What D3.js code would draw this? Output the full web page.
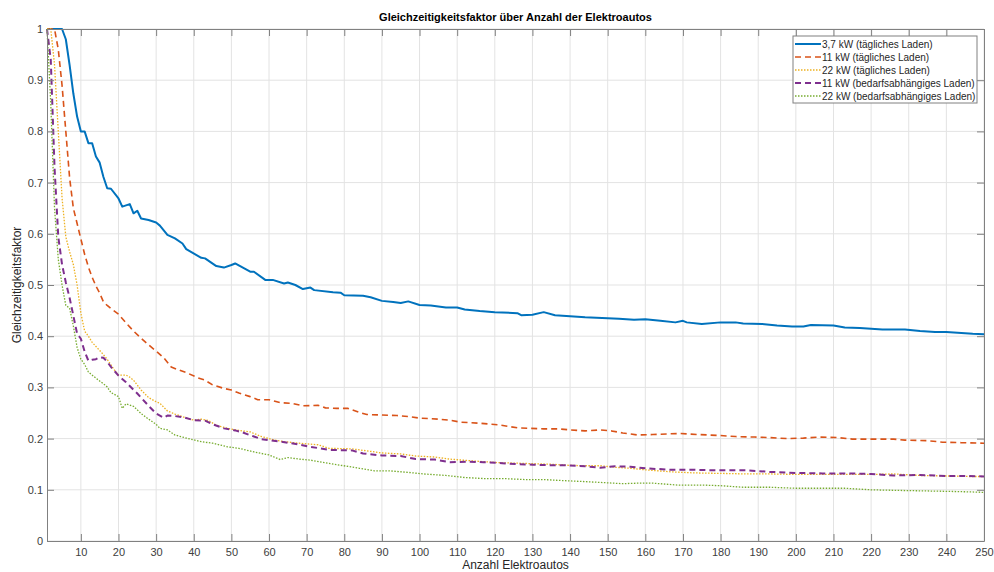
<!DOCTYPE html>
<html>
<head>
<meta charset="utf-8">
<script src="https://cdn.jsdelivr.net/npm/d3@7"></script>
<style>
  body { margin: 0; background: #fff; }
  svg { display: block; font-family: "Liberation Sans", Arial, sans-serif; }
</style>
</head>
<body>
<div id="viz"></div>
<script>
// data (N = Anzahl Elektroautos, f = Gleichzeitigkeitsfaktor)
var n37Tag = [1,2,3,4,5,6,7,8,9,10,11,12,13,14,15,16,17,18,20,21,23,24,25,26,28,30,31,33,35,37,38,42,43,46,48,50,51,55,56,59,61,64,65,67,69,71,72,77,79,80,85,87,90,93,95,97,100,103,107,110,112,116,120,126,127,130,133,136,138,144,147,153,157,160,164,168,170,171,175,180,184,186,191,195,199,202,204,210,213,217,223,229,233,237,240,245,247,250];
var f37Tag = [1,1,1,1,1,0.98,0.93,0.874,0.829,0.80,0.80,0.777,0.777,0.751,0.739,0.711,0.689,0.688,0.669,0.653,0.658,0.640,0.645,0.630,0.627,0.622,0.616,0.598,0.591,0.581,0.570,0.553,0.552,0.537,0.534,0.539,0.542,0.526,0.526,0.510,0.510,0.503,0.505,0.500,0.492,0.495,0.490,0.486,0.485,0.480,0.479,0.476,0.469,0.467,0.465,0.468,0.461,0.460,0.456,0.456,0.452,0.449,0.447,0.445,0.441,0.442,0.447,0.441,0.440,0.437,0.436,0.434,0.432,0.433,0.430,0.427,0.430,0.427,0.424,0.427,0.427,0.425,0.424,0.421,0.419,0.419,0.422,0.421,0.417,0.416,0.413,0.413,0.410,0.408,0.408,0.406,0.405,0.404];

var n11Tag = [1,2,3,4,5,6,7,8,9,10,11,12,13,14,15,16,17,18,20,22,24,26,28,30,32,34,36,38,41,43,45,48,50,52,55,57,60,63,66,69,73,75,78,81,84,86,90,94,97,100,105,108,111,116,121,126,133,137,140,144,148,151,154,158,162,169,174,180,184,189,193,198,202,206,211,215,221,226,229,235,239,244,250];
var f11Tag = [1,1,1,0.96,0.89,0.80,0.71,0.65,0.62,0.59,0.56,0.535,0.515,0.498,0.484,0.467,0.46,0.454,0.443,0.426,0.41,0.396,0.383,0.371,0.358,0.340,0.334,0.329,0.319,0.314,0.305,0.298,0.295,0.289,0.282,0.276,0.276,0.270,0.269,0.264,0.265,0.260,0.259,0.259,0.251,0.247,0.246,0.245,0.243,0.240,0.238,0.236,0.232,0.230,0.227,0.221,0.219,0.219,0.217,0.215,0.217,0.215,0.211,0.207,0.208,0.210,0.208,0.206,0.204,0.203,0.202,0.200,0.201,0.203,0.202,0.199,0.199,0.199,0.197,0.196,0.193,0.192,0.191];

var n22Tag = [1,2,3,4,5,6,7,8,9,10,11,12,13,14,15,16,17,18,19,20,22,23,24,26,28,30,31,33,35,38,40,42,44,46,49,52,55,58,61,64,68,73,76,82,86,90,95,99,104,108,113,117,121,126,130,135,139,144,148,152,156,160,167,173,180,187,193,200,206,213,220,226,233,240,246,250];
var f22Tag = [1,1,0.93,0.80,0.67,0.594,0.565,0.54,0.50,0.445,0.41,0.40,0.388,0.38,0.372,0.364,0.355,0.344,0.333,0.324,0.324,0.32,0.314,0.295,0.28,0.272,0.269,0.254,0.248,0.240,0.236,0.238,0.235,0.226,0.220,0.216,0.213,0.204,0.198,0.194,0.191,0.188,0.181,0.180,0.176,0.172,0.170,0.166,0.164,0.160,0.157,0.155,0.153,0.152,0.151,0.150,0.148,0.147,0.147,0.144,0.142,0.139,0.135,0.133,0.132,0.131,0.131,0.130,0.130,0.130,0.130,0.131,0.128,0.127,0.126,0.126];

var n11Bed = [1,2,3,4,5,6,7,8,9,10,11,12,13,14,15,16,17,18,20,22,25,28,30,32,33,35,37,40,43,45,48,51,53,56,58,60,63,66,71,76,82,85,90,95,99,104,108,113,117,122,126,130,135,139,144,148,152,156,160,167,173,180,187,193,200,207,213,220,226,233,240,246,250];
var f11Bed = [1,0.94,0.73,0.594,0.54,0.505,0.475,0.44,0.405,0.395,0.37,0.352,0.354,0.355,0.359,0.358,0.35,0.340,0.323,0.31,0.288,0.264,0.249,0.241,0.245,0.244,0.242,0.236,0.235,0.228,0.220,0.216,0.212,0.204,0.199,0.197,0.194,0.191,0.184,0.178,0.177,0.171,0.167,0.166,0.160,0.159,0.154,0.155,0.154,0.152,0.150,0.149,0.148,0.148,0.146,0.143,0.146,0.145,0.142,0.139,0.139,0.138,0.138,0.135,0.133,0.132,0.132,0.131,0.128,0.129,0.127,0.127,0.126];

var n22Bed = [1,2,3,4,5,6,7,8,9,10,11,12,14,16,17,18,20,21,22,24,26,28,30,31,33,35,38,42,45,49,52,56,60,63,65,68,71,74,79,84,88,92,97,101,107,112,117,122,128,133,138,144,149,154,158,162,169,176,180,186,193,200,207,213,220,226,233,240,246,250];
var f22Bed = [1,0.855,0.65,0.55,0.50,0.46,0.455,0.42,0.378,0.355,0.345,0.33,0.318,0.307,0.301,0.29,0.282,0.259,0.268,0.263,0.249,0.238,0.228,0.220,0.217,0.207,0.201,0.194,0.191,0.184,0.181,0.174,0.168,0.159,0.163,0.160,0.158,0.154,0.148,0.142,0.137,0.137,0.134,0.131,0.128,0.124,0.122,0.122,0.120,0.120,0.118,0.116,0.114,0.112,0.113,0.113,0.109,0.109,0.108,0.105,0.105,0.103,0.103,0.103,0.100,0.099,0.098,0.097,0.096,0.095];

var seriesNames = ['3,7 kW (tägliches Laden)', '11 kW (tägliches Laden)', '22 kW (tägliches Laden)',
    '11 kW (bedarfsabhängiges Laden)', '22 kW (bedarfsabhängiges Laden)'];
var xTicks = [10,20,30,40,50,60,70,80,90,100,110,120,130,140,150,160,170,180,190,200,210,220,230,240,250];
var yTicks = [0,0.1,0.2,0.3,0.4,0.5,0.6,0.7,0.8,0.9,1];

var W = 994, H = 572,
    pLeft = 47, pRight = 984, pTop = 29, pBottom = 541;

var styles = [
    { color: '#0072BD', w: 2,   dash: null },
    { color: '#D95319', w: 1.6, dash: '6,4' },
    { color: '#EDB120', w: 1.3, dash: '1.5,1.5' },
    { color: '#7E2F8E', w: 2,   dash: '6,4' },
    { color: '#77AC30', w: 1.3, dash: '1.5,1.5' }
];

var lines = [
    d3.zip(n37Tag, f37Tag), d3.zip(n11Tag, f11Tag), d3.zip(n22Tag, f22Tag),
    d3.zip(n11Bed, f11Bed), d3.zip(n22Bed, f22Bed)
];

var svg = d3.select('#viz').append('svg')
    .attr('width', W)
    .attr('height', H);

var x = d3.scaleLinear().domain([1, 250]).range([pLeft, pRight]);
var y = d3.scaleLinear().domain([0, 1]).range([pBottom, pTop]);

// grid
svg.append('g')
    .selectAll('line')
    .data(xTicks)
    .enter().append('line')
    .attr('x1', function (d) { return x(d); })
    .attr('x2', function (d) { return x(d); })
    .attr('y1', pTop).attr('y2', pBottom)
    .style('stroke', '#e3e3e3');
svg.append('g')
    .selectAll('line')
    .data(yTicks)
    .enter().append('line')
    .attr('x1', pLeft).attr('x2', pRight)
    .attr('y1', function (d) { return y(d); })
    .attr('y2', function (d) { return y(d); })
    .style('stroke', '#e3e3e3');

// curves
var line = d3.line()
    .x(function (d) { return x(d[0]); })
    .y(function (d) { return y(d[1]); });

svg.append('g')
    .selectAll('path')
    .data(lines)
    .enter().append('path')
    .attr('d', line)
    .style('fill', 'none')
    .style('stroke', function (d, i) { return styles[i].color; })
    .style('stroke-width', function (d, i) { return styles[i].w; })
    .style('stroke-dasharray', function (d, i) { return styles[i].dash; })
    .style('stroke-linejoin', 'round');

// axes (box with inward ticks)
var fmt = function (d) { return String(+d.toFixed(1)); };
var axes = [
    svg.append('g').attr('transform', 'translate(0,' + pBottom + ')')
        .call(d3.axisBottom(x).tickValues(xTicks).tickSizeInner(-7).tickSizeOuter(0).tickPadding(7)),
    svg.append('g').attr('transform', 'translate(0,' + pTop + ')')
        .call(d3.axisTop(x).tickValues(xTicks).tickSizeInner(-7).tickSizeOuter(0).tickFormat('')),
    svg.append('g').attr('transform', 'translate(' + pLeft + ',0)')
        .call(d3.axisLeft(y).tickValues(yTicks).tickSizeInner(-7).tickSizeOuter(0).tickPadding(4).tickFormat(fmt)),
    svg.append('g').attr('transform', 'translate(' + pRight + ',0)')
        .call(d3.axisRight(y).tickValues(yTicks).tickSizeInner(-7).tickSizeOuter(0).tickFormat(''))
];
axes.forEach(function (g) {
    g.select('.domain').style('stroke', '#808080');
    g.selectAll('.tick line').style('stroke', '#808080');
    g.selectAll('.tick text').style('fill', '#404040').style('font-size', '11px')
        .style('font-family', '"Liberation Sans", Arial, sans-serif');
});

// titles
svg.append('text')
    .attr('x', (pLeft + pRight) / 2).attr('y', 21)
    .attr('text-anchor', 'middle')
    .style('font-size', '11px').style('font-weight', 'bold').style('fill', '#000')
    .text('Gleichzeitigkeitsfaktor über Anzahl der Elektroautos');
svg.append('text')
    .attr('x', (pLeft + pRight) / 2).attr('y', 569)
    .attr('text-anchor', 'middle')
    .style('font-size', '12px').style('fill', '#262626')
    .text('Anzahl Elektroautos');
svg.append('text')
    .attr('transform', 'translate(21,' + (pTop + pBottom) / 2 + ') rotate(-90)')
    .attr('text-anchor', 'middle')
    .style('font-size', '12px').style('fill', '#262626')
    .text('Gleichzeitigkeitsfaktor');

// legend
var legend = svg.append('g').attr('transform', 'translate(793,36)');
legend.append('rect')
    .attr('width', 184).attr('height', 67)
    .style('fill', '#fff').style('stroke', '#808080');
var item = legend.selectAll('g')
    .data(seriesNames)
    .enter().append('g')
    .attr('transform', function (d, i) { return 'translate(0,' + (8 + i * 13) + ')'; });
item.append('line')
    .attr('x1', 2).attr('x2', 28).attr('y1', 0).attr('y2', 0)
    .style('stroke', function (d, i) { return styles[i].color; })
    .style('stroke-width', function (d, i) { return styles[i].w; })
    .style('stroke-dasharray', function (d, i) { return styles[i].dash; });
item.append('text')
    .attr('x', 29).attr('y', 3.5)
    .style('font-size', '10px').style('fill', '#262626')
    .text(function (d) { return d; });
</script>
</body>
</html>
